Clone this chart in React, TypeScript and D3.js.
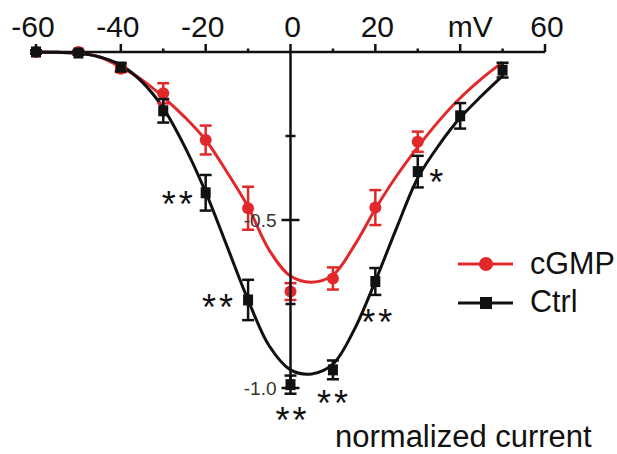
import React from "react";
import * as d3 from "d3";

// ---- data ----
const voltages = [-60, -50, -40, -30, -20, -10, 0, 10, 20, 30, 40, 50];
const ctrlMean = [0, -0.003, -0.045, -0.175, -0.419, -0.738, -0.99, -0.946, -0.683, -0.356, -0.19, -0.054];
const ctrlErr = [0.005, 0.005, 0.012, 0.035, 0.053, 0.06, 0.027, 0.028, 0.04, 0.047, 0.038, 0.022];

const cgmpVoltages = [-60, -50, -40, -30, -20, -10, 0, 10, 20, 30];
const cgmpMean = [0, 0, -0.05, -0.123, -0.262, -0.465, -0.713, -0.674, -0.463, -0.267];
const cgmpErr = [0.005, 0.006, 0.01, 0.03, 0.043, 0.064, 0.025, 0.033, 0.052, 0.03];

const fitVoltages = [-60, -55, -50, -45, -40, -35, -30, -25, -20, -15, -10, -5, 0, 5, 10, 15, 20, 25, 30, 35, 40, 45, 50];
const ctrlFit = [0, -0.001, -0.004, -0.015, -0.039, -0.089, -0.167, -0.28, -0.417, -0.577, -0.738, -0.875, -0.946, -0.958, -0.929, -0.827, -0.682, -0.524, -0.375, -0.277, -0.196, -0.131, -0.071];
const cgmpFit = [0, -0.001, -0.003, -0.015, -0.045, -0.083, -0.134, -0.193, -0.262, -0.357, -0.461, -0.59, -0.667, -0.685, -0.664, -0.577, -0.467, -0.369, -0.283, -0.205, -0.137, -0.08, -0.03];

const xTicks = [-60, -50, -40, -30, -20, -10, 0, 10, 20, 30, 40, 50, 60];
const xLabelValues = [-60, -40, -20, 0, 20, 40, 60];
const xLabels = ["-60", "-40", "-20", "0", "20", "mV", "60"];
const yTicks = [-0.25, -0.5, -0.75, -1.0];
const yLabelValues = [-0.5, -1.0];
const yLabels = ["-0.5", "-1.0"];

const sigVoltages = [-20, -10, 0, 10, 20, 30];
const sigLabels = ["**", "**", "**", "**", "**", "*"];

const seriesNames = ["cGMP", "Ctrl"];
const axisTitle = "normalized current";

// ---- styling ----
const RED = "#e2282b";
const BLACK = "#111111";
const FONT = "'Liberation Sans', Arial, Helvetica, sans-serif";

export default function App() {
  const W = 617, H = 454;
  const x = d3.scaleLinear().domain([-60, 60]).range([36, 545]);
  const y = d3.scaleLinear().domain([0, -1]).range([52, 388]);

  const line = d3
    .line<[number, number]>()
    .x((d) => x(d[0]))
    .y((d) => y(d[1]))
    .curve(d3.curveCatmullRom.alpha(0.5));

  const ctrlPath = line(fitVoltages.map((v, i) => [v, ctrlFit[i]] as [number, number])) || "";
  const cgmpPath = line(fitVoltages.map((v, i) => [v, cgmpFit[i]] as [number, number])) || "";

  const capW = 6;
  const sq = 10;
  const cr = 6;

  const errBar = (xv: number, m: number, e: number, color: string, key: string) => {
    const cx = x(xv);
    const y1 = y(m - e);
    const y2 = y(m + e);
    return (
      <g key={key} stroke={color} strokeWidth={2.5}>
        <line x1={cx} x2={cx} y1={y1} y2={y2} />
        <line x1={cx - capW} x2={cx + capW} y1={y1} y2={y1} />
        <line x1={cx - capW} x2={cx + capW} y1={y2} y2={y2} />
      </g>
    );
  };

  // offsets for significance markers relative to the Ctrl points
  const sigOffset = (i: number): [number, number] => {
    const offs: [number, number][] = [
      [-27, 6],
      [-29, 2],
      [2, 30],
      [1, 28],
      [3, 36],
      [20, 5],
    ];
    return offs[i];
  };

  return (
    <svg
      width={W}
      height={H}
      viewBox={`0 0 ${W} ${H}`}
      style={{ position: "absolute", left: 0, top: 0, background: "#fff" }}
      fontFamily={FONT}
    >
      <rect width={W} height={H} fill="#fff" />

      {/* fit curves */}
      <path d={cgmpPath} fill="none" stroke={RED} strokeWidth={3} />
      <path d={ctrlPath} fill="none" stroke={BLACK} strokeWidth={3} />

      {/* cGMP points */}
      {cgmpVoltages.map((v, i) => errBar(v, cgmpMean[i], cgmpErr[i], RED, "re" + i))}
      {cgmpVoltages.map((v, i) => (
        <circle key={"rc" + i} cx={x(v)} cy={y(cgmpMean[i])} r={cr} fill={RED} />
      ))}

      {/* axes */}
      <g stroke={BLACK} strokeWidth={2.5} fill="none">
        <line x1={x(-60)} x2={x(60)} y1={y(0)} y2={y(0)} />
        <line x1={x(0)} x2={x(0)} y1={y(0)} y2={y(-1) + 2} />
        {xTicks.map((t) => (
          <line
            key={"xt" + t}
            x1={x(t)}
            x2={x(t)}
            y1={y(0)}
            y2={y(0) - (t % 20 === 0 ? 8 : 3.5)}
          />
        ))}
        {yTicks.map((t) => {
          const major = Math.abs(t * 2 - Math.round(t * 2)) < 1e-6;
          return (
            <line
              key={"yt" + t}
              x1={x(0) - (major ? 9 : 5)}
              x2={x(0) + (major ? 9 : 5)}
              y1={y(t)}
              y2={y(t)}
            />
          );
        })}
      </g>
      {xLabelValues.map((t, i) => (
        <text
          key={"xl" + t}
          x={x(t) + (xLabels[i] === "mV" ? 10 : t < 0 ? -3 : 2)}
          y={36.5}
          fontSize={30}
          textAnchor="middle"
          fill={BLACK}
        >
          {xLabels[i]}
        </text>
      ))}
      {yLabelValues.map((t, i) => (
        <text
          key={"yl" + t}
          x={x(0) - 14}
          y={y(t) + 6.5}
          fontSize={19}
          textAnchor="end"
          fill="#333"
        >
          {yLabels[i]}
        </text>
      ))}

      {/* Ctrl points */}
      {voltages.map((v, i) => errBar(v, ctrlMean[i], ctrlErr[i], BLACK, "be" + i))}
      {voltages.map((v, i) => (
        <rect
          key={"bs" + i}
          x={x(v) - sq / 2}
          y={y(ctrlMean[i]) - sq / 2 - 0.5}
          width={sq}
          height={sq + 1}
          fill={BLACK}
        />
      ))}

      {/* significance */}
      {sigVoltages.map((v, i) => {
        const idx = voltages.indexOf(v);
        const [dx, dy] = sigOffset(i);
        return (
          <text
            key={"sig" + i}
            x={x(v) + dx}
            y={y(ctrlMean[idx]) + dy + 18}
            fontSize={36}
            letterSpacing={3}
            textAnchor="middle"
            fill={BLACK}
          >
            {sigLabels[i]}
          </text>
        );
      })}

      {/* legend */}
      <g>
        <line x1={458} x2={513} y1={264} y2={264} stroke={RED} strokeWidth={3} />
        <circle cx={486} cy={264} r={7} fill={RED} />
        <text x={530} y={274} fontSize={30.5} fill={BLACK}>
          {seriesNames[0]}
        </text>
        <line x1={458} x2={513} y1={303} y2={303} stroke={BLACK} strokeWidth={3} />
        <rect x={480} y={297} width={12} height={12} fill={BLACK} />
        <text x={530} y={311.5} fontSize={30.5} fill={BLACK}>
          {seriesNames[1]}
        </text>
      </g>

      {/* axis title */}
      <text x={335} y={446.5} fontSize={31} fill={BLACK}>
        {axisTitle}
      </text>
    </svg>
  );
}
